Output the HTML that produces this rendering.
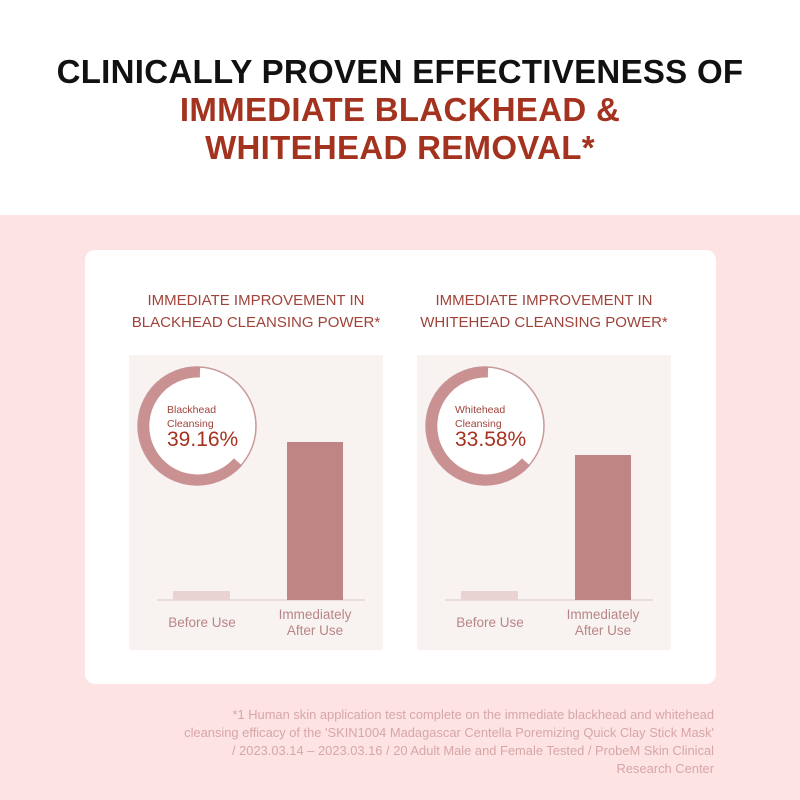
<!DOCTYPE html>
<html><head><style>
body{margin:0;width:800px;height:800px;position:relative;font-family:"Liberation Sans",sans-serif;background:#fff;overflow:hidden}
.t{position:absolute;left:0;width:800px;text-align:center;font-weight:bold;font-size:33px;letter-spacing:0.3px}
.pink{position:absolute;left:0;top:215px;width:800px;height:585px;background:#fde3e3}
.card{position:absolute;left:85px;top:250px;width:631px;height:434px;background:#fff;border-radius:10px}
.h{position:absolute;width:300px;text-align:center;color:#a0433a;font-size:15px;line-height:22px}
.p{position:absolute;top:355px;width:254px;height:295px;background:#f8f2f1}
.lab{position:absolute;color:#b88686;font-size:13.5px;text-align:center;line-height:16px}
.foot{position:absolute;right:86px;top:706px;width:600px;text-align:right;color:#d7a6a8;font-size:12.9px;line-height:18px;white-space:nowrap}
</style></head><body>
<div class="t" style="top:53px;color:#111">CLINICALLY PROVEN EFFECTIVENESS OF</div>
<div class="t" style="top:91px;color:#a3331f">IMMEDIATE BLACKHEAD &amp;</div>
<div class="t" style="top:129px;color:#a3331f">WHITEHEAD REMOVAL*</div>
<div class="pink"></div>
<div class="card"></div>
<div class="h" style="left:106px;top:290px">IMMEDIATE IMPROVEMENT IN<br>BLACKHEAD CLEANSING POWER*</div>
<div class="h" style="left:394px;top:290px">IMMEDIATE IMPROVEMENT IN<br>WHITEHEAD CLEANSING POWER*</div>
<div class="p" style="left:129px"></div>
<div class="p" style="left:417px"></div>
<svg style="position:absolute;left:0;top:0" width="800" height="800">
<g>
<circle cx="197" cy="426" r="59" fill="#fff" stroke="#c99a9a" stroke-width="1.5"/>
<path d="M200 372 A54 54 0 1 0 238 462" fill="none" stroke="#c99192" stroke-width="11"/>
<rect x="157" y="599.5" width="208" height="1" fill="#dcc5c5"/>
<rect x="173" y="591" width="57" height="9" fill="#e9d2d2"/>
<rect x="287" y="442" width="56" height="158" fill="#bf8585"/>
</g>
<g transform="translate(288,0)">
<circle cx="197" cy="426" r="59" fill="#fff" stroke="#c99a9a" stroke-width="1.5"/>
<path d="M200 372 A54 54 0 1 0 238 462" fill="none" stroke="#c99192" stroke-width="11"/>
<rect x="157" y="599.5" width="208" height="1" fill="#dcc5c5"/>
<rect x="173" y="591" width="57" height="9" fill="#e9d2d2"/>
<rect x="287" y="455" width="56" height="145" fill="#bf8585"/>
</g>
</svg>
<div style="position:absolute;left:167px;top:403px;color:#a0433a;font-size:10.5px;line-height:14px">Blackhead<br>Cleansing</div>
<div style="position:absolute;left:167px;top:428px;color:#a3331f;font-size:21px">39.16%</div>
<div style="position:absolute;left:455px;top:403px;color:#a0433a;font-size:10.5px;line-height:14px">Whitehead<br>Cleansing</div>
<div style="position:absolute;left:455px;top:428px;color:#a3331f;font-size:21px">33.58%</div>
<div class="lab" style="left:152px;width:100px;top:615px">Before Use</div>
<div class="lab" style="left:265px;width:100px;top:607px">Immediately<br>After Use</div>
<div class="lab" style="left:440px;width:100px;top:615px">Before Use</div>
<div class="lab" style="left:553px;width:100px;top:607px">Immediately<br>After Use</div>
<div class="foot">*1 Human skin application test complete on the immediate blackhead and whitehead<br>cleansing efficacy of the 'SKIN1004 Madagascar Centella Poremizing Quick Clay Stick Mask'<br>/ 2023.03.14 – 2023.03.16 / 20 Adult Male and Female Tested / ProbeM Skin Clinical<br>Research Center</div>
</body></html>
